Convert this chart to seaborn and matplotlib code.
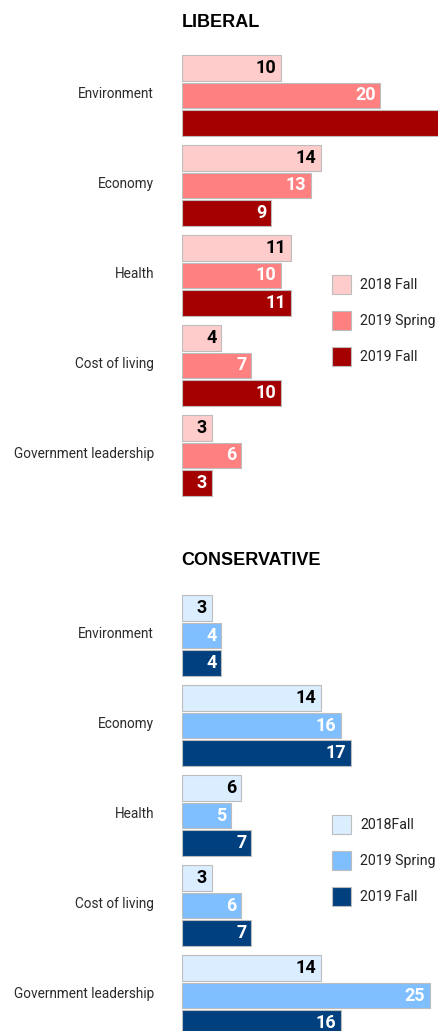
import matplotlib
matplotlib.use("Agg")
import matplotlib.pyplot as plt
from matplotlib import font_manager as fm
from matplotlib.transforms import ScaledTranslation
import seaborn as sns
import pandas as pd

# ---------------- data ----------------
issues = ["Environment", "Economy", "Health", "Cost of living", "Government leadership"]

lib_waves = ["2018 Fall", "2019 Spring", "2019 Fall"]
lib_2018_fall = [10, 14, 11, 4, 3]
lib_2019_spring = [20, 13, 10, 7, 6]
lib_2019_fall = [29, 9, 11, 10, 3]

con_waves = ["2018Fall", "2019 Spring", "2019 Fall"]
con_2018_fall = [3, 14, 6, 3, 14]
con_2019_spring = [4, 16, 5, 6, 25]
con_2019_fall = [4, 17, 7, 7, 16]

lib_colors = ["#ffcccc", "#ff8080", "#a50000"]
con_colors = ["#dbeeff", "#80bfff", "#00407f"]

# ---------------- fonts ----------------
sns.set_theme(style="white")
names = {f.name for f in fm.fontManager.ttflist}
NARROW = "Roboto" if "Roboto" in names else "DejaVu Sans"
TITLE_FONT = "Liberation Sans" if "Liberation Sans" in names else "DejaVu Sans"


def make_df(waves, series):
    rows = []
    for w, vals in zip(waves, series):
        for iss, v in zip(issues, vals):
            rows.append({"issue": iss, "wave": w, "value": v})
    return pd.DataFrame(rows)


W, H = 438, 1031
fig = plt.figure(figsize=(W / 100, H / 100), dpi=100)

XMAX = 25.8
left = 181.7 / W
width = 1 - left

LEG_FS = 10.2


def panel(ax, df, waves, colors, title, title_baseline):
    sns.barplot(data=df, x="value", y="issue", hue="wave", hue_order=waves,
                order=issues, orient="h", palette=colors, width=0.9167, gap=0.09,
                edgecolor="#bdbdbd", linewidth=0.8, errorbar=None, ax=ax,
                saturation=1)
    ax.set_xlim(0, XMAX)
    ax.set_ylim(4.5, -0.5)
    ax.set_xlabel("")
    ax.set_ylabel("")
    ax.set_xticks([])
    for s in ax.spines.values():
        s.set_visible(False)
    ax.tick_params(axis="y", length=0, pad=20)
    shift = ScaledTranslation(0, 3 / 100, fig.dpi_scale_trans)
    for lab in ax.get_yticklabels():
        lab.set_fontfamily(NARROW)
        lab.set_fontweight("normal")
        lab.set_fontsize(9.8)
        lab.set_color("#2b2b2b")
        lab.set_transform(lab.get_transform() + shift)
    # value labels
    for i, cont in enumerate(ax.containers):
        col = "black" if i == 0 else "white"
        for p in cont.patches:
            v = p.get_width()
            yc = p.get_y() + p.get_height() / 2
            ax.annotate(f"{int(round(v))}", xy=(v, yc), xytext=(-3.5, 0),
                        textcoords="offset points", ha="right", va="center",
                        fontsize=13, fontweight="bold", color=col,
                        family=NARROW, annotation_clip=True, clip_on=True)
    leg = ax.legend(loc="center left", bbox_to_anchor=(0.586, 0.40),
                    frameon=False, borderpad=0, borderaxespad=0,
                    handlelength=1.37, handleheight=1.74, handletextpad=0.62,
                    labelspacing=1.17,
                    prop=fm.FontProperties(size=LEG_FS, family=NARROW))
    for t in leg.get_texts():
        t.set_color("#222222")
    fig.text(left, 1 - title_baseline / H, title, ha="left", va="baseline",
             fontsize=13, fontweight="bold", family=TITLE_FONT, color="black")


ax1 = fig.add_axes([left, 1 - 500.5 / H, width, 450 / H])
panel(ax1, make_df(lib_waves, [lib_2018_fall, lib_2019_spring, lib_2019_fall]),
      lib_waves, lib_colors, "LIBERAL", 26.7)

ax2 = fig.add_axes([left, 1 - 1040.5 / H, width, 450 / H])
panel(ax2, make_df(con_waves, [con_2018_fall, con_2019_spring, con_2019_fall]),
      con_waves, con_colors, "CONSERVATIVE", 565)

fig.savefig("out.png", dpi=100)
